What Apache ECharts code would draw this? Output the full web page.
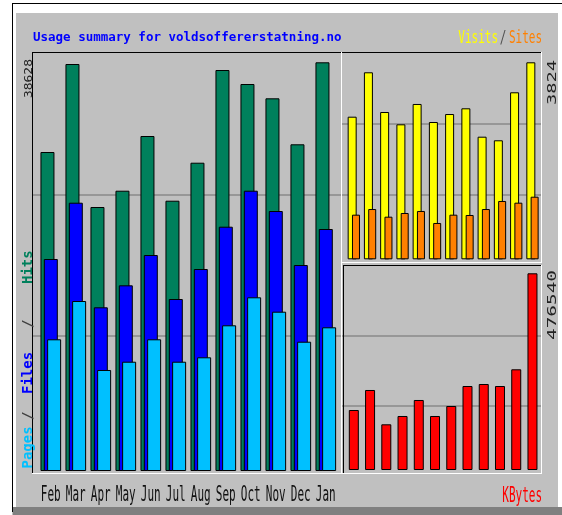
<!DOCTYPE html>
<html><head><meta charset="utf-8">
<script src="https://cdn.jsdelivr.net/npm/echarts@6/dist/echarts.min.js"></script>
<style>html,body{margin:0;padding:0;background:#fff}#c{width:562px;height:515px}</style>
</head><body><div id="c"></div>
<script>
const months = ['Feb','Mar','Apr','May','Jun','Jul','Aug','Sep','Oct','Nov','Dec','Jan'];
const hits   = [30150, 38466, 24951, 26491, 31661, 25546, 29138, 37900, 36576, 35224, 30877, 38628];
const files  = [20036, 25357, 15471, 17550, 20414, 16256, 19091, 23089, 26491, 24573, 19469, 22872];
const pages  = [12447, 16067, 9546, 10330, 12447, 10330, 10746, 13770, 16416, 15056, 12220, 13581];
const visits = [2768, 3630, 2859, 2620, 3015, 2665, 2820, 2931, 2380, 2310, 3242, 3824];
const sites  = [866, 976, 827, 899, 938, 705, 866, 860, 976, 1132, 1099, 1215];
const kbytes = [145360, 193816, 110700, 130830, 169590, 130830, 155050, 203500, 208350, 203500, 243960, 476540];

const maxHits = Math.max(...hits);
const maxVisits = Math.max(...visits);
const maxKB = Math.max(...kbytes);

const chart = echarts.init(document.getElementById('c'), null, {renderer:'canvas', width:562, height:515});

const bs = c => ({color:c, borderColor:'#000', borderWidth:1});
const gridAxisY = k => ({gridIndex:k, type:'value', min:0, max:1, interval:1,
  axisLine:{show:false}, axisTick:{show:false}, axisLabel:{show:false},
  splitLine:{show:true, lineStyle:{color:'#8a8a8a', width:1.5}}});

chart.setOption({
  animation:false,
  backgroundColor:'#c0c0c0',
  grid:[
    {left:38.3, top:62.3, width:300, height:408.7},
    {left:345.7, top:62.3, width:194.9, height:197},
    {left:345.7, top:273.3, width:194.9, height:196.7},
    {left:33, top:195, width:308, height:141},
    {left:342, top:124, width:199, height:71},
    {left:342, top:335.7, width:199, height:70.3}
  ],
  xAxis:[
    {gridIndex:0, type:'category', data:months, show:false},
    {gridIndex:1, type:'category', data:months, show:false},
    {gridIndex:2, type:'category', data:months, show:false},
    {gridIndex:3, type:'value', show:false},
    {gridIndex:4, type:'value', show:false},
    {gridIndex:5, type:'value', show:false}
  ],
  yAxis:[
    {gridIndex:0, type:'value', min:0, max:maxHits, show:false},
    {gridIndex:1, type:'value', min:0, max:maxVisits, show:false},
    {gridIndex:2, type:'value', min:0, max:maxKB, show:false},
    gridAxisY(3), gridAxisY(4), gridAxisY(5)
  ],
  series:[
    {name:'Hits', type:'bar', xAxisIndex:0, yAxisIndex:0, data:hits, barWidth:14, barGap:'-76.2%', itemStyle:bs('#00805c'), silent:true},
    {name:'Files', type:'bar', xAxisIndex:0, yAxisIndex:0, data:files, barWidth:14, barGap:'-76.2%', itemStyle:bs('#0000ff'), silent:true},
    {name:'Pages', type:'bar', xAxisIndex:0, yAxisIndex:0, data:pages, barWidth:14, barGap:'-76.2%', itemStyle:bs('#00c0ff'), silent:true},
    {name:'Visits', type:'bar', xAxisIndex:1, yAxisIndex:1, data:visits, barWidth:9, barGap:'-52.2%', itemStyle:bs('#ffff00'), silent:true},
    {name:'Sites', type:'bar', xAxisIndex:1, yAxisIndex:1, data:sites, barWidth:8, barGap:'-52.2%', itemStyle:bs('#ff8000'), silent:true},
    {name:'KBytes', type:'bar', xAxisIndex:2, yAxisIndex:2, data:kbytes, barWidth:10, itemStyle:bs('#ff0000'), silent:true}
  ]
});

const R = (x,y,w,h,fill) => ({type:'rect', silent:true, shape:{x:x,y:y,width:w,height:h}, style:{fill:fill}});
const T = (o) => {
  const st = Object.assign({fill:'#000', align:'left', verticalAlign:'middle'}, o.style);
  return {type:'text', silent:true, x:o.x, y:o.y, rotation:o.rotation||0, scaleX:o.scaleX||1, scaleY:o.scaleY||1, style:st};
};
const mono = '"DejaVu Sans Mono", monospace';

const deco = [
  R(0,0,12,515,'#fff'), R(0,0,562,3,'#fff'),
  R(12,3,550,1,'#000'), R(12,3,1,509,'#000'),
  R(13,4,549,9,'#fff'), R(13,4,3,503,'#fff'), R(558,4,4,503,'#fff'),
  R(13,507,549,8,'#808080'),
  // left plot frame
  R(32,52,310,1,'#000'), R(32,52,1,422,'#000'), R(341,52,1,422,'#fff'), R(32,473,310,1,'#fff'),
  // right top frame
  R(342,52,200,1,'#000'), R(541,52,1,211,'#fff'), R(342,262,200,1,'#fff'),
  // right bottom frame
  R(343,265,199,1,'#000'), R(343,265,1,209,'#000'), R(541,265,1,209,'#fff'), R(342,473,200,1,'#fff')
];

const texts = [
  T({x:33, y:37.5, style:{text:'Usage summary for voldsoffererstatning.no', fill:'#0000ff', font:'bold 12.5px '+mono}}),
  T({x:498, y:38.5, scaleY:1.6, style:{text:'Visits', fill:'#ffff00', font:'11px '+mono, align:'right'}}),
  T({x:503, y:38.5, scaleY:1.6, style:{text:'/', fill:'#505050', font:'11px '+mono, align:'center'}}),
  T({x:542, y:38.5, scaleY:1.6, style:{text:'Sites', fill:'#ff8000', font:'11px '+mono, align:'right'}}),
  T({x:542, y:496.5, scaleY:2, style:{text:'KBytes', fill:'#ff0000', font:'11px '+mono, align:'right'}}),
  // left vertical legend
  T({x:28, y:468.5, rotation:Math.PI/2, style:{text:'Pages', fill:'#00c0ff', font:'bold 14px '+mono}}),
  T({x:28, y:420, rotation:Math.PI/2, style:{text:'/', fill:'#404040', font:'bold 14px '+mono}}),
  T({x:28, y:394, rotation:Math.PI/2, style:{text:'Files', fill:'#0000ff', font:'bold 14px '+mono}}),
  T({x:28, y:328, rotation:Math.PI/2, style:{text:'/', fill:'#404040', font:'bold 14px '+mono}}),
  T({x:28, y:284, rotation:Math.PI/2, style:{text:'Hits', fill:'#00805c', font:'bold 14px '+mono}}),
  // max labels
  T({x:29, y:59, rotation:Math.PI/2, scaleX:1.18, style:{text:String(maxHits), fill:'#222', font:'11px '+mono, align:'right'}}),
  T({x:553, y:60, rotation:Math.PI/2, scaleX:1.44, style:{text:String(maxVisits), fill:'#222', font:'13px '+mono, align:'right'}}),
  T({x:553, y:270, rotation:Math.PI/2, scaleX:1.49, style:{text:String(maxKB), fill:'#222', font:'13px '+mono, align:'right'}})
];

const monthLabels = months.map((m,i) => {
  const px = chart.convertToPixel({xAxisIndex:0, yAxisIndex:0}, [i, 0])[0];
  return T({x:px, y:495, scaleY:2, style:{text:m, fill:'#111', font:'11px '+mono, align:'center'}});
});

chart.setOption({graphic:{elements: deco.concat(texts, monthLabels)}});
</script>
</body></html>
